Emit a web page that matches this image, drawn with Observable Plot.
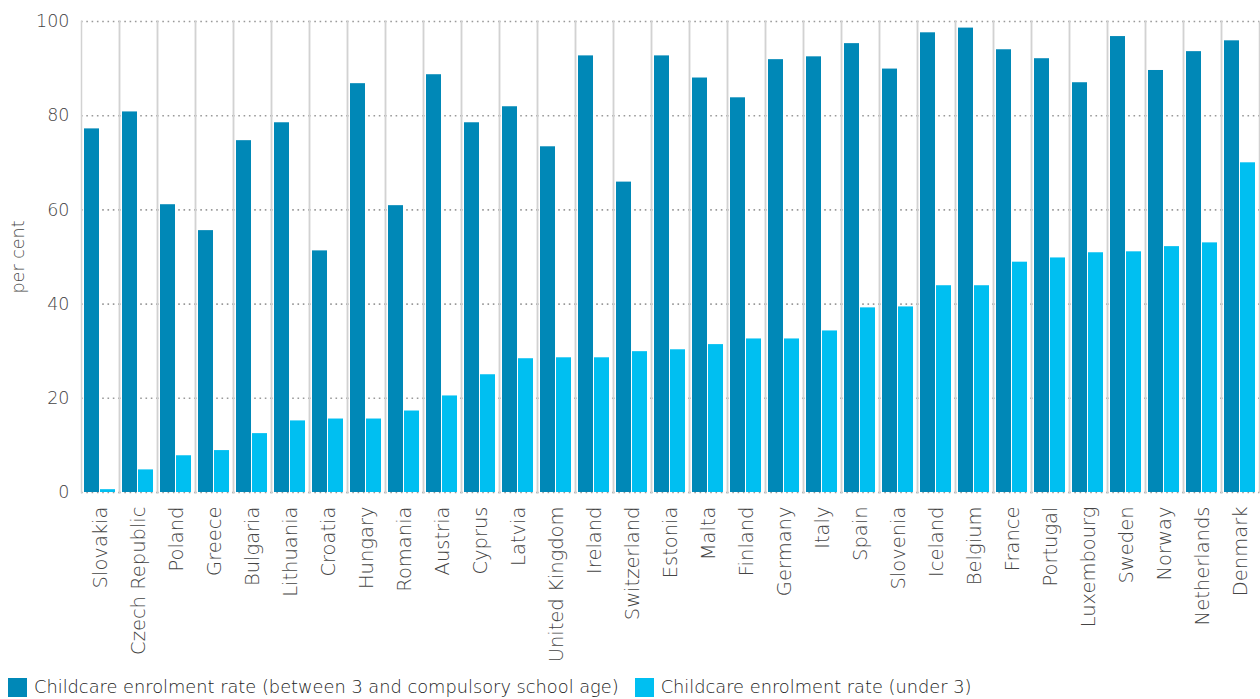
<!DOCTYPE html>
<html>
<head>
<meta charset="utf-8">
<script src="https://cdn.jsdelivr.net/npm/d3@7"></script>
<script src="https://cdn.jsdelivr.net/npm/@observablehq/plot@0.6"></script>
<style>
  html, body { margin: 0; padding: 0; background: #fff; }
  #chart { width: 1260px; }
  #chart svg text { font-family: "DejaVu Sans", sans-serif !important; font-weight: 300; }
  #chart g[aria-label="fx-axis tick label"] text { font-size: 19.5px !important; }
  #chart g[aria-label="y-axis tick label"] text { font-size: 17.5px !important; }
  #chart g[aria-label="y-axis label"] text { font-size: 17.5px !important; }
  .legend { display: flex; align-items: center; margin-top: 9px; padding-left: 8px; line-height: 20px;
            font-family: "DejaVu Sans", sans-serif; font-weight: 300; font-size: 17.8px; color: #222; }
  .legend .item { display: flex; align-items: center; }
  .legend .sw { width: 19px; height: 19px; margin-right: 7px; }
</style>
</head>
<body>
<div id="chart"></div>
<script>
const countries = ["Slovakia","Czech Republic","Poland","Greece","Bulgaria","Lithuania","Croatia","Hungary","Romania","Austria","Cyprus","Latvia","United Kingdom","Ireland","Switzerland","Estonia","Malta","Finland","Germany","Italy","Spain","Slovenia","Iceland","Belgium","France","Portugal","Luxembourg","Sweden","Norway","Netherlands","Denmark"];
const seriesNames = ["Childcare enrolment rate (between 3 and compulsory school age)", "Childcare enrolment rate (under 3)"];
const over3 = [77.2,80.8,61.1,55.6,74.7,78.5,51.3,86.8,60.9,88.7,78.5,81.9,73.4,92.7,65.9,92.7,88.0,83.8,91.9,92.5,95.3,89.9,97.6,98.6,94.0,92.1,87.0,96.8,89.6,93.6,95.9];
const under3 = [0.6,4.8,7.8,8.9,12.5,15.2,15.6,15.6,17.3,20.5,25.0,28.4,28.6,28.6,29.9,30.3,31.4,32.6,32.6,34.3,39.2,39.4,43.9,43.9,48.9,49.8,50.9,51.1,52.2,53.0,70.0];
const yTicks = [0,20,40,60,80,100];
const colors = ["#0088b7", "#00bff1"];

const data = countries.flatMap((c, i) => [
  {country: c, series: seriesNames[0], value: over3[i]},
  {country: c, series: seriesNames[1], value: under3[i]}
]);

const plot = Plot.plot({
  width: 1260,
  height: 668,
  marginLeft: 80,
  marginRight: 1,
  marginTop: 21,
  marginBottom: 176,
  fx: {domain: countries, padding: 0, label: null, tickSize: 0, tickPadding: 14, tickRotate: -90},
  x: {domain: seriesNames, paddingInner: 0, paddingOuter: 0.12, axis: null},
  y: {domain: [0, 100], ticks: yTicks, tickSize: 0, tickPadding: 12, label: "per cent", labelAnchor: "center", labelArrow: "none", labelOffset: 70},
  color: {domain: seriesNames, range: colors},
  style: {color: "#444", fontSize: "17px", fontFamily: "DejaVu Sans, sans-serif"},
  marks: [
    Plot.gridY(yTicks, {stroke: "#999", strokeOpacity: 1, strokeWidth: 1.6, strokeDasharray: "1.6,3.7"}),
    Plot.frame({anchor: "left", stroke: "#d2d2d2", strokeWidth: 1.5}),
    Plot.frame({anchor: "right", stroke: "#d2d2d2", strokeWidth: 1.5}),
    Plot.barY(data, {fx: "country", x: "series", y: "value", fill: "series", insetRight: 1})
  ]
});

document.getElementById("chart").appendChild(plot);

const legend = document.createElement("div");
legend.className = "legend";
seriesNames.forEach((s, i) => {
  const item = document.createElement("div");
  item.className = "item";
  if (i === 1) item.style.marginLeft = "16px";
  const sw = document.createElement("div");
  sw.className = "sw";
  sw.style.background = colors[i];
  const t = document.createElement("span");
  t.textContent = s;
  item.appendChild(sw);
  item.appendChild(t);
  legend.appendChild(item);
});
document.getElementById("chart").appendChild(legend);
</script>
</body>
</html>
